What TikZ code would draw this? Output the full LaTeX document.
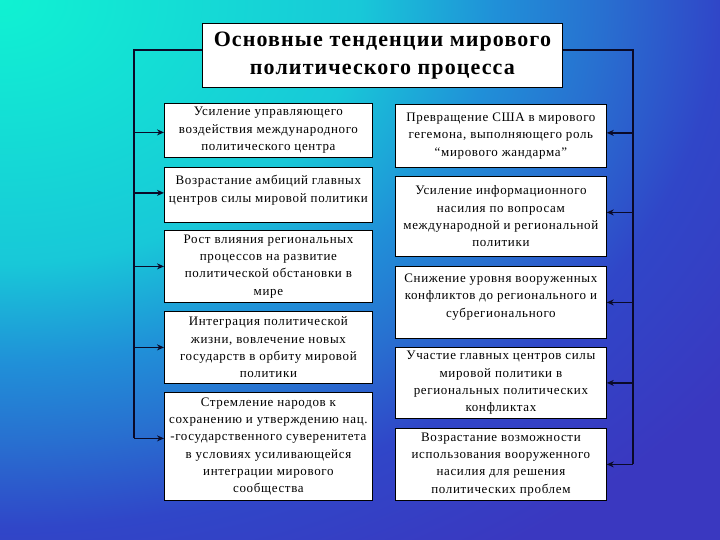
\documentclass[tikz,border=0pt]{standalone}
\usepackage{fontspec}
\setmainfont{Liberation Serif}
\newfontfamily\bodyfont[LetterSpace=5]{Liberation Serif}
\usetikzlibrary{arrows.meta}
\definecolor{bgA}{HTML}{10F2D2}
\definecolor{bgB}{HTML}{18C8D8}
\definecolor{bgC}{HTML}{2090D8}
\definecolor{bgD}{HTML}{2870D0}
\definecolor{bgE}{HTML}{3046C8}
\definecolor{bgF}{HTML}{3A38C0}
\definecolor{linec}{HTML}{0A0A28}
\pgfdeclareradialshading{bgshade}{\pgfpoint{0bp}{0bp}}{color(0bp)=(bgA); color(10bp)=(bgB); color(13.75bp)=(bgC); color(16.7bp)=(bgD); color(20bp)=(bgE); color(25bp)=(bgF); color(50bp)=(bgF)}
\tikzset{
  box/.style={draw=black, line width=0.8pt, fill=white, anchor=north west, align=center, inner sep=2pt,
    font=\bodyfont\fontsize{13}{17.3}\selectfont},
  titlebox/.style={draw=black, line width=0.8pt, fill=white, anchor=north west, align=center,
    font=\bodyfont\fontsize{22}{28}\selectfont\bfseries},
  conn/.style={draw=linec, line width=1.5pt},
  arr/.style={conn, -{Stealth[length=7pt,width=6pt]}}
}
\newcommand{\dstrut}[1]{\rule[-#1]{0pt}{#1}}
\begin{document}
\begin{tikzpicture}[x=1pt,y=-1pt]
\useasboundingbox (0,0) rectangle (720,540);
\begin{scope}
\clip (0,0) rectangle (720,540);
\fill[bgF] (0,0) rectangle (720,540);
\shade[shading=bgshade] (0,0) ellipse (900pt and 660pt);
\end{scope}
% title
\node[titlebox, minimum width=360pt, minimum height=64pt] (T) at (202,23) {Основные тенденции мирового\\политического процесса};
% left boxes
\node[box, minimum width=208pt, minimum height=54pt] (L1) at (164,103) {Усиление управляющего\\воздействия международного\\политического центра};
\node[box, minimum width=208pt, minimum height=55pt] (L2) at (164,167) {Возрастание амбиций главных\\центров силы мировой политики\dstrut{12pt}};
\node[box, minimum width=208pt, minimum height=72pt] (L3) at (164,230) {Рост влияния региональных\\процессов на развитие\\политической обстановки в\\мире};
\node[box, minimum width=208pt, minimum height=72pt] (L4) at (164,311) {Интеграция политической\\жизни, вовлечение новых\\государств в орбиту мировой\\политики};
\node[box, minimum width=208pt, minimum height=108pt] (L5) at (164,392) {Стремление народов к\\сохранению и утверждению нац.\\-государственного суверенитета\\в условиях усиливающейся\\интеграции мирового\\сообщества};
% right boxes
\node[box, minimum width=211pt, minimum height=63pt] (R1) at (395,104) {Превращение США в мирового\\гегемона, выполняющего роль\\“мирового жандарма”};
\node[box, minimum width=211pt, minimum height=80pt] (R2) at (395,176) {Усиление информационного\\насилия по вопросам\\международной и региональной\\политики};
\node[box, minimum width=211pt, minimum height=72pt] (R3) at (395,266) {Снижение уровня вооруженных\\конфликтов до регионального и\\субрегионального\dstrut{14pt}};
\node[box, minimum width=211pt, minimum height=71pt] (R4) at (395,347) {Участие главных центров силы\\мировой политики в\\региональных политических\\конфликтах};
\node[box, minimum width=211pt, minimum height=72pt] (R5) at (395,428) {Возрастание возможности\\использования вооруженного\\насилия для решения\\политических проблем};
% connectors left
\coordinate (lt) at (134,50);
\coordinate (rt) at (633,50);
\draw[conn] (T.west |- lt) -- (lt) -- ([yshift=8pt]lt |- L5.west);
\draw[arr] ([yshift=8pt]L5.west -| lt) -- ([yshift=8pt]L5.west);
\draw[arr] ([yshift=-2pt]L1.west -| lt) -- ([yshift=-2pt]L1.west);
\draw[arr] ([yshift=2pt]L2.west -| lt) -- ([yshift=2pt]L2.west);
\draw[arr] (L3.west -| lt) -- (L3.west);
\draw[arr] (L4.west -| lt) -- (L4.west);
% connectors right
\draw[conn] (T.east |- rt) -- (rt) -- (rt |- R5.east);
\draw[arr] ([yshift=3pt]R1.east -| rt) -- ([yshift=3pt]R1.east);
\draw[arr] ([yshift=4pt]R2.east -| rt) -- ([yshift=4pt]R2.east);
\draw[arr] (R3.east -| rt) -- (R3.east);
\draw[arr] (R4.east -| rt) -- (R4.east);
\draw[arr] (R5.east -| rt) -- (R5.east);
\end{tikzpicture}
\end{document}
